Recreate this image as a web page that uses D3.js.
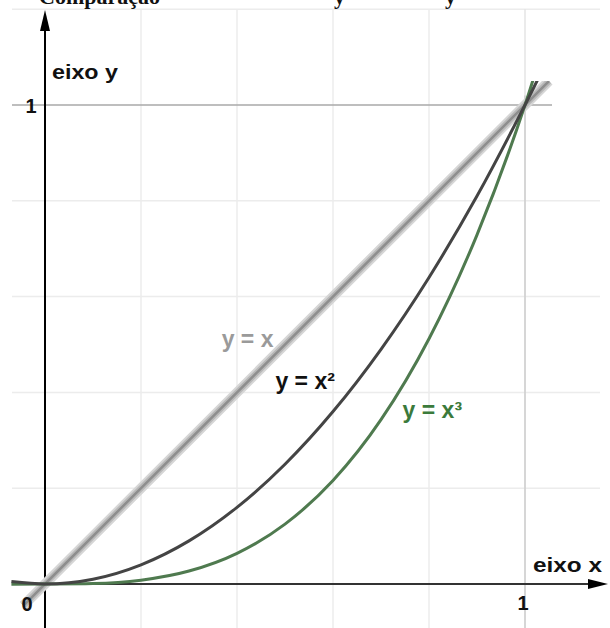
<!DOCTYPE html>
<html>
<head>
<meta charset="utf-8">
<script src="https://cdn.jsdelivr.net/npm/d3@7"></script>
<style>
  html, body { margin: 0; padding: 0; background: #fff; }
  svg { display: block; }
  text { font-family: "Liberation Sans", Arial, sans-serif; font-weight: bold; }
</style>
</head>
<body>
<svg id="chart" width="610" height="628"></svg>
<script>
// sample x positions and the values
const xs = [-0.07, 0, 0.1, 0.2, 0.3, 0.4, 0.5, 0.6, 0.7, 0.8, 0.9, 1.0, 1.05];
const ySquare = [0.005, 0, 0.01, 0.04, 0.09, 0.16, 0.25, 0.36, 0.49, 0.64, 0.81, 1.0, 1.1];
const yCube = [-0.0003, 0, 0.001, 0.008, 0.027, 0.064, 0.125, 0.216, 0.343, 0.512, 0.729, 1.0, 1.16];
// y = x is a straight line, only its ends are needed
const xLinear = [-0.045, 0, 1.05];
const yLinear = [-0.045, 0, 1.05];

const gridX = [0.2, 0.4, 0.6, 0.8];
const gridY = [0.2, 0.4, 0.6, 0.8, 1.2];
const tickLabels = ["0", "1"];

const curveLabels = [
  { text: "y = x", color: "#9a9a9a", x: 0.368, y: 0.495 },
  { text: "y = x²", color: "#111", x: 0.48, y: 0.408 },
  { text: "y = x³", color: "#3b7a3b", x: 0.745, y: 0.346 }
];

const svg = d3.select("#chart");
const width = 610, height = 628;

const x = d3.scaleLinear().domain([0, 1]).range([45, 525]);
const y = d3.scaleLinear().domain([0, 1]).range([584, 105]);

// light grid
svg.append("g").selectAll("line")
  .data(gridX)
  .join("line")
  .attr("x1", d => x(d)).attr("x2", d => x(d))
  .attr("y1", 9).attr("y2", height)
  .attr("stroke", "#ececec").attr("stroke-width", 1.5);

svg.append("g").selectAll("line")
  .data(gridY)
  .join("line")
  .attr("x1", 12).attr("x2", 600)
  .attr("y1", d => y(d)).attr("y2", d => y(d))
  .attr("stroke", "#ececec").attr("stroke-width", 1.5);

// lines through 1
svg.append("line")
  .attr("x1", x(1)).attr("x2", x(1))
  .attr("y1", 9).attr("y2", height)
  .attr("stroke", "#e4e4e4").attr("stroke-width", 1.5);
svg.append("line")
  .attr("x1", x(1)).attr("x2", x(1))
  .attr("y1", y(1.02)).attr("y2", height)
  .attr("stroke", "#c8c8c8").attr("stroke-width", 1.2);
svg.append("line")
  .attr("x1", 12).attr("x2", 552)
  .attr("y1", y(1)).attr("y2", y(1))
  .attr("stroke", "#a8a8a8").attr("stroke-width", 1.3);

// title, cut off at the top edge as in the source picture
const titleFont = "'Liberation Serif', serif";
svg.append("text").style("font-family", titleFont).attr("font-size", 22)
  .attr("x", 160).attr("y", 4).attr("text-anchor", "end").attr("fill", "#111").text("Comparação");
svg.append("text").style("font-family", titleFont).attr("font-size", 22)
  .attr("x", 334).attr("y", 4).attr("fill", "#111").text("y");
svg.append("text").style("font-family", titleFont).attr("font-size", 22)
  .attr("x", 445).attr("y", 4).attr("fill", "#111").text("y");

// axes
svg.append("line")
  .attr("x1", x(0)).attr("x2", x(0))
  .attr("y1", 28).attr("y2", height)
  .attr("stroke", "#000").attr("stroke-width", 2);
svg.append("path")
  .attr("d", `M${x(0)},10 L${x(0) - 5},31 L${x(0) + 5},31 Z`)
  .attr("fill", "#000");

svg.append("line")
  .attr("x1", 12).attr("x2", 592)
  .attr("y1", y(0)).attr("y2", y(0))
  .attr("stroke", "#333").attr("stroke-width", 2.2);
svg.append("path")
  .attr("d", `M608,${y(0)} L588,${y(0) - 5} L588,${y(0) + 5} Z`)
  .attr("fill", "#000");

// curves
svg.append("clipPath").attr("id", "plotClip")
  .append("rect").attr("x", 10).attr("y", y(1.05)).attr("width", 560).attr("height", 600);

const line = (xv, yv) => d3.line()
  .x((d, i) => x(xv[i]))
  .y((d, i) => y(yv[i]))
  .curve(d3.curveMonotoneX)(xv);

const plot = svg.append("g").attr("clip-path", "url(#plotClip)");

// y = x drawn as a soft thick grey stroke
plot.append("path").attr("d", line(xLinear, yLinear))
  .attr("fill", "none").attr("stroke", "#d6d6d6").attr("stroke-width", 10);
plot.append("path").attr("d", line(xLinear, yLinear))
  .attr("fill", "none").attr("stroke", "#b8b8b8").attr("stroke-width", 6);
plot.append("path").attr("d", line(xLinear, yLinear))
  .attr("fill", "none").attr("stroke", "#8e8e8e").attr("stroke-width", 2.5);

plot.append("path").attr("d", line(xs, yCube))
  .attr("fill", "none").attr("stroke", "#4f7a4f").attr("stroke-width", 3);
plot.append("path").attr("d", line(xs, ySquare))
  .attr("fill", "none").attr("stroke", "#444").attr("stroke-width", 3);

// curve labels
svg.append("g").selectAll("text")
  .data(curveLabels)
  .join("text")
  .attr("x", d => x(d.x)).attr("y", d => y(d.y))
  .attr("font-size", 23)
  .attr("fill", d => d.color)
  .text(d => d.text);

// axis labels
svg.append("text").attr("x", 52).attr("y", 79).attr("font-size", 21).attr("fill", "#111")
  .attr("textLength", 66).attr("lengthAdjust", "spacingAndGlyphs").text("eixo y");
svg.append("text").attr("x", 533).attr("y", 572).attr("font-size", 21).attr("fill", "#111")
  .attr("textLength", 69).attr("lengthAdjust", "spacingAndGlyphs").text("eixo x");

svg.append("text").attr("x", 27).attr("y", 611).attr("text-anchor", "middle")
  .attr("font-size", 20).attr("fill", "#111").text(tickLabels[0]);
svg.append("text").attr("x", x(1) - 2).attr("y", 610).attr("text-anchor", "middle")
  .attr("font-size", 20).attr("fill", "#111").text(tickLabels[1]);
svg.append("text").attr("x", 31).attr("y", 113).attr("text-anchor", "middle")
  .attr("font-size", 20).attr("fill", "#111").text(tickLabels[1]);
</script>
</body>
</html>
